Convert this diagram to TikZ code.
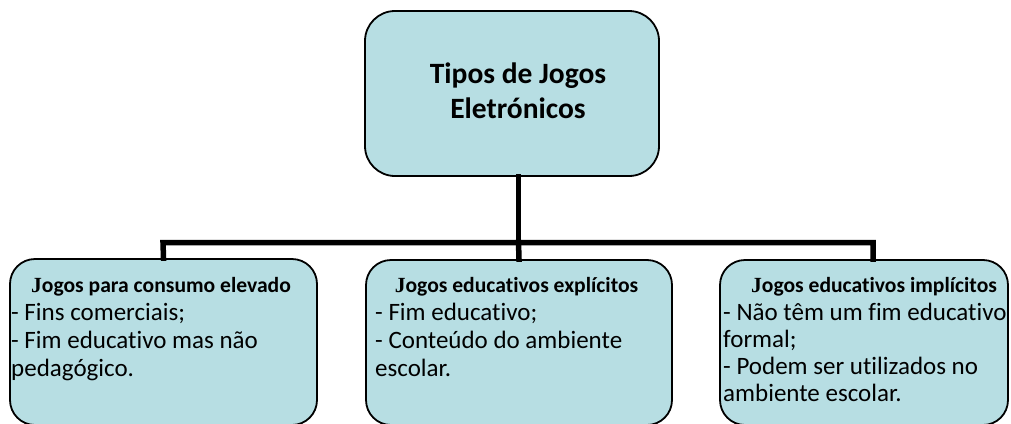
\documentclass[tikz,border=0pt]{standalone}
\usepackage{fontspec}
\setmainfont[Ligatures=NoCommon]{Carlito}
\newfontfamily\jfont{Liberation Serif}
\definecolor{boxfill}{HTML}{B7DEE3}
\begin{document}
\begin{tikzpicture}[x=1pt,y=-1pt,
  box/.style={draw=black, line width=1.8pt, fill=boxfill, rounded corners=25pt, inner sep=0pt},
  conn/.style={line width=5.5pt, line join=miter, line cap=rect},
  txt/.style={inner sep=0pt, anchor=base west},
  head/.style={inner sep=0pt, anchor=base, font=\fontsize{21.6}{25}\selectfont\bfseries}]
\useasboundingbox (0,0) rectangle (1011,423);
% boxes
\node[box, rounded corners=30pt, minimum width=294pt, minimum height=165pt] (top) at (512,93.5) {};
\node[box, minimum width=307pt, minimum height=166pt] (left) at (163.5,342) {};
\node[box, minimum width=306pt, minimum height=165pt] (mid) at (519,342.5) {};
\node[box, minimum width=288pt, minimum height=165pt] (right) at (864,342.5) {};
% connectors
\coordinate (j) at (518.5,242.5);
\coordinate (bl) at (163,242.5);
\coordinate (br) at (873,242.5);
\draw[conn] (top.south -| j) -- (j);
\draw[conn] (left.north) -- (bl) -- (br) -- (br |- right.north);
\draw[conn] (j) -- (mid.north);
% title
\node[inner sep=0pt, anchor=base] (title) at (518,83)
  {\parbox[t]{290pt}{\centering\fontsize{29.5}{35}\selectfont\bfseries Tipos de Jogos\\Eletrónicos}};
% headers
\node[head] (h1) at (161,292) {{\jfont J}ogos para consumo elevado};
\node[head] (h2) at (516.5,292) {{\jfont J}ogos educativos explícitos};
\node[head] (h3) at (874,292) {{\jfont J}ogos educativos implícitos};
% bodies
\node[txt] (b1) at (11,320) {\parbox[t]{305pt}{\raggedright\fontsize{25}{28}\selectfont - Fins comerciais;\\- Fim educativo mas não\\pedagógico.}};
\node[txt] (b2) at (375,320) {\parbox[t]{305pt}{\raggedright\fontsize{25}{28}\selectfont - Fim educativo;\\- Conteúdo do ambiente\\escolar.}};
\node[txt] (b3) at (723,320) {\parbox[t]{305pt}{\raggedright\fontsize{25}{27}\selectfont - Não têm um fim educativo\\formal;\\- Podem ser utilizados no\\ambiente escolar.}};
\end{tikzpicture}
\end{document}
